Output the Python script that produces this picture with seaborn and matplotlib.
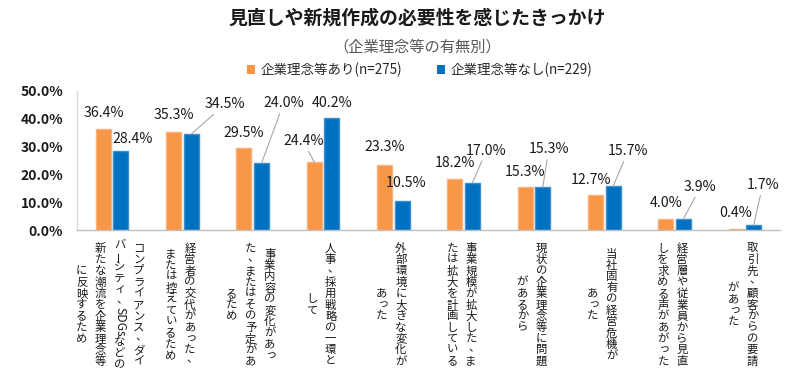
import matplotlib
matplotlib.use("Agg")
import matplotlib.pyplot as plt
import seaborn as sns
import pandas as pd
from matplotlib.patches import Patch
from matplotlib.ticker import FuncFormatter

# ---------------- data ----------------
categories = [
    "コンプライアンス、ダイ\nバーシティ、SDGsなどの\n新たな潮流を企業理念等\nに反映するため",
    "経営者の交代があった、\nまたは控えているため",
    "事業内容の変化があっ\nた、またはその予定があ\nるため",
    "人事、採用戦略の一環と\nして",
    "外部環境に大きな変化が\nあった",
    "事業規模が拡大した、ま\nたは拡大を計画している",
    "現状の企業理念等に問題\nがあるから",
    "当社固有の経営危機が\nあった",
    "経営層や従業員から見直\nしを求める声があがった",
    "取引先、顧客からの要請\nがあった",
]
series_names = ["企業理念等あり(n=275)", "企業理念等なし(n=229)"]
with_values = [36.4, 35.3, 29.5, 24.4, 23.3, 18.2, 15.3, 12.7, 4.0, 0.4]
without_values = [28.4, 34.5, 24.0, 40.2, 10.5, 17.0, 15.3, 15.7, 3.9, 1.7]
y_ticks = [0, 10, 20, 30, 40, 50]

title = "見直しや新規作成の必要性を感じたきっかけ"
subtitle = "（企業理念等の有無別）"

# ---------------- style ----------------
colors = ["#F79646", "#0070C0"]
edge_colors = ["#FAB27C", "#3C8FD0"]
# label offsets (pixels) relative to bar top centre, and whether a leader line is drawn
label_offsets = [
    [(0, 16), (0, 17), (0, 15), (-11, 21), (0, 18), (0, 16), (0, 15), (-4, 15), (0, 16), (0, 16)],
    [(12, 12), (34, 30), (22, 60), (0, 15), (4, 18), (14, 32), (6, 38), (15, 35), (17, 32), (9, 40)],
]
leaders = [
    [False, False, False, True, False, False, False, False, False, False],
    [False, True, True, False, False, True, True, True, True, True],
]

sns.set_theme(style="white")
plt.rcParams["font.family"] = ["Noto Sans CJK JP", "DejaVu Sans"]

fig = plt.figure(figsize=(8, 3.83), dpi=100)
ax = fig.add_axes([77 / 800, 1 - 230 / 383, (780 - 77) / 800, (230 - 91) / 383])

keys = [f"c{i}" for i in range(len(categories))]
df = pd.DataFrame({
    "cat": keys * 2,
    "series": [series_names[0]] * len(keys) + [series_names[1]] * len(keys),
    "value": with_values + without_values,
})
sns.barplot(data=df, x="cat", y="value", hue="series", order=keys,
            hue_order=series_names, palette=colors, width=0.5, gap=0.15,
            saturation=1, legend=False, ax=ax, linewidth=1)

for ci, cont in enumerate(ax.containers):
    for bar in cont:
        bar.set_edgecolor(edge_colors[ci])

ax.set_ylim(0, 50)
ax.set_xlim(-0.5, len(keys) - 0.5)
ax.set_yticks(y_ticks)
ax.yaxis.set_major_formatter(FuncFormatter(lambda v, p: f"{v:.1f}%"))
ax.tick_params(axis="y", length=0, pad=10, labelsize=10, labelcolor="#1a1a1a")
ax.tick_params(axis="x", length=0)
ax.set_xticklabels([])
ax.set_xlabel("")
ax.set_ylabel("")
for s in ["top", "right"]:
    ax.spines[s].set_visible(False)
ax.spines["left"].set_color("#D9D9D9")
ax.spines["bottom"].set_color("#BFBFBF")
ax.spines["left"].set_linewidth(1)
ax.spines["bottom"].set_linewidth(1)
for lab in ax.get_yticklabels():
    lab.set_fontweight("bold")

# data labels
for ci, cont in enumerate(ax.containers):
    vals = [with_values, without_values][ci]
    for bi, bar in enumerate(cont):
        x = bar.get_x() + bar.get_width() / 2
        y = bar.get_height()
        dx, dy = label_offsets[ci][bi]
        kw = {}
        if leaders[ci][bi]:
            kw["arrowprops"] = dict(arrowstyle="-", color="#A6A6A6", lw=0.8,
                                    shrinkA=0, shrinkB=0)
        ax.annotate(f"{vals[bi]:.1f}%", xy=(x, y), xytext=(dx, dy),
                    textcoords="offset pixels", ha="center", va="center",
                    fontsize=10.2, color="#1a1a1a", **kw)

# vertical (tategaki) category labels
small_kana = set("っッィャュョぁぃぅぇぉァゥェォ")
fs_v = 8.2
pitch = 11.3
colgap = 19
center_dy = -75


def tokenize(col):
    toks = []
    buf = ""
    for ch in col:
        if ch.isascii() and ch.isalnum():
            buf += ch
            continue
        if buf:
            toks.append((buf, "latin", 0.64 * len(buf)))
            buf = ""
        toks.append((ch, "cjk", 1.0))
    if buf:
        toks.append((buf, "latin", 0.64 * len(buf)))
    return toks


xform = ax.get_xaxis_transform()
for i, text in enumerate(categories):
    cols = text.split("\n")
    m = len(cols)
    for j, col in enumerate(cols):
        dx = ((m - 1) / 2 - j) * colgap - 2
        toks = tokenize(col)
        total = sum(t[2] for t in toks) * pitch
        ytop = center_dy + total / 2
        for tok, kind, h in toks:
            yc = ytop - h * pitch / 2
            ytop -= h * pitch
            rot = 0
            sx, sy = 0, 0
            fs = fs_v
            if kind == "latin":
                rot = -90
                fs = fs_v + 0.6
            elif tok == "ー":
                rot = 90
            elif tok in "、。":
                sx, sy = 0.22 * pitch, 0.15 * pitch
            elif tok in small_kana:
                sx, sy = 0.1 * pitch, 0.1 * pitch
            ax.annotate(tok, xy=(i, 0), xycoords=xform,
                        xytext=(dx + sx, yc + sy), textcoords="offset pixels",
                        ha="center", va="center", rotation=rot,
                        fontsize=fs, color="#1a1a1a", annotation_clip=False)

# titles
fig.text(0.521, 1 - 18 / 383, title, ha="center", va="center",
         fontsize=13.6, fontweight="bold", color="#1a1a1a")
fig.text(0.521, 1 - 47 / 383, subtitle, ha="center", va="center",
         fontsize=11, color="#595959")

handles = [Patch(facecolor=colors[0], edgecolor="none"),
           Patch(facecolor=colors[1], edgecolor="none")]
fig.legend(handles, series_names, loc="center", bbox_to_anchor=(0.525, 1 - 70 / 383),
           ncol=2, frameon=False, fontsize=9.7, handlelength=0.55, handleheight=0.55,
           handletextpad=0.45, columnspacing=2.6, borderaxespad=0, borderpad=0)

fig.savefig("out.png", dpi=100)
